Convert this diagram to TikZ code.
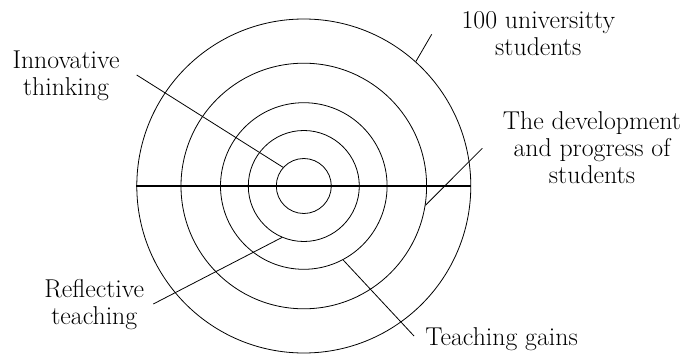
\documentclass[tikz,border=0pt]{standalone}
\usetikzlibrary{positioning}
\tikzset{
	ring/.style={draw, circle, inner sep=0pt, minimum size=#1},
	lbl/.style={align=center, inner sep=0pt, font=\fontsize{25.8}{27}\selectfont},
	axisline/.style={line width=1.2pt}
}

\begin{document}
\begin{tikzpicture}[x=1pt, y=1pt, line width=0.8pt]
	\useasboundingbox (0,0) rectangle (685,354);
	\coordinate (O) at (303.8,168);
	\foreach \n/\r in {1/27.5, 2/55.5, 3/83.3, 4/122.8, 5/167}
		\node[ring=2*\r pt] (c\n) at (O) {};
	\draw[axisline] (c5.west) -- (c5.east);
	% labels and leaders
	\node[lbl] (innov) at (66,278) {Innovative\\thinking};
	\coordinate (innov end) at (136.7,279);
	\draw (innov end) -- (c1.138.5);
	\node[lbl] (univ) at (538.3,320.3) {100 universitty\\students};
	\coordinate (univ end) at (431.7,319.7);
	\draw (univ end) -- (c5.48.3);
	\node[lbl] (devel) at (592,206.7) {The development\\and progress of\\students};
	\coordinate (devel end) at (482.3,205.7);
	\draw (devel end) -- (c4.-9.4);
	\node[lbl] (refl) at (94.3,49.6) {Reflective\\teaching};
	\coordinate (refl end) at (153.3,50);
	\draw (refl end) -- (c2.247.7);
	\node[lbl, anchor=base west] (gains) at (425,9) {Teaching gains};
	\coordinate (gains end) at (414,18);
	\draw (gains end) -- (c3.-62.5);
\end{tikzpicture}
\end{document}
